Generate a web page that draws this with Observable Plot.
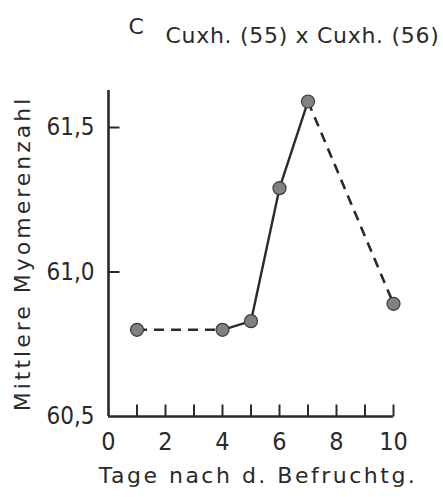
<!DOCTYPE html>
<html><head><meta charset="utf-8">
<script src="https://cdn.jsdelivr.net/npm/d3@7"></script>
<script src="https://cdn.jsdelivr.net/npm/@observablehq/plot@0.6"></script>
<style>body{margin:0;background:#fff}svg{display:block}</style>
</head><body><div id="chart"></div>
<script>
const days = [1, 4, 5, 6, 7, 10];
const myomeres = [60.80, 60.80, 60.83, 61.29, 61.59, 60.89];
const segmentStyles = ["dashed", "solid", "solid", "solid", "dashed"];
const xTickLabels = [0, 2, 4, 6, 8, 10];
const xTickMarks = [1, 2, 3, 4, 5, 6, 7, 8, 9, 10];
const yTicks = [60.5, 61.0, 61.5];
const titleLetter = "C";
const titleText = "Cuxh. (55) x Cuxh. (56)";
const xLabel = "Tage nach d. Befruchtg.";
const yLabel = "Mittlere Myomerenzahl";

const points = days.map((d, i) => ({day: d, value: myomeres[i]}));
const segments = segmentStyles.map((s, i) => ({
  x1: days[i], y1: myomeres[i], x2: days[i + 1], y2: myomeres[i + 1], style: s
}));
const fmt = d => d.toFixed(1).replace(".", ",");
const ink = "#2a2a2a";
const tickFont = "DejaVu Sans Condensed, DejaVu Sans, sans-serif";
const labelFont = "DejaVu Sans, sans-serif";
const upTick = {draw(context) { context.moveTo(0, 0); context.lineTo(0, -12); }};
const rightTick = {draw(context) { context.moveTo(0, 0); context.lineTo(11, 0); }};

const chart = Plot.plot({
  width: 443, height: 497,
  marginLeft: 108, marginRight: 50, marginTop: 90, marginBottom: 81,
  style: {fontFamily: tickFont, color: ink, background: "#fff"},
  x: {domain: [0, 10]},
  y: {domain: [60.5, 61.628]},
  marks: [
    Plot.axisX(xTickLabels, {tickSize: 0, tickPadding: 16, fontSize: 25, fill: ink, label: null}),
    Plot.axisY(yTicks, {tickSize: 0, tickPadding: 14, tickFormat: fmt, fontSize: 24, fill: ink, label: null}),
    Plot.dot(xTickMarks, {x: d => d, y: () => 60.5, symbol: upTick, fill: "none", stroke: ink, strokeWidth: 2}),
    Plot.dot(yTicks.filter(t => t > 60.5), {x: () => 0, y: d => d, symbol: rightTick, fill: "none", stroke: ink, strokeWidth: 2}),
    Plot.ruleX([0], {stroke: ink, strokeWidth: 2.6}),
    Plot.ruleY([60.5], {stroke: ink, strokeWidth: 2.6}),
    Plot.link(segments.filter(s => s.style === "solid"), {x1: "x1", y1: "y1", x2: "x2", y2: "y2", stroke: ink, strokeWidth: 2.4}),
    Plot.link(segments.filter(s => s.style === "dashed"), {x1: "x1", y1: "y1", x2: "x2", y2: "y2", stroke: ink, strokeWidth: 2.6, strokeDasharray: "10,7"}),
    Plot.dot(points, {x: "day", y: "value", r: 6.5, fill: "#818181", stroke: "#3a3a3a", strokeWidth: 1.2}),
    Plot.text([titleLetter], {frameAnchor: "top-left", dx: 20, dy: -72, fontSize: 22, fontFamily: labelFont, fill: ink, textAnchor: "start"}),
    Plot.text([titleText], {frameAnchor: "top-left", dx: 57, dy: -63, fontSize: 22, fontFamily: labelFont, fill: ink, textAnchor: "start"}),
    Plot.text([xLabel], {frameAnchor: "bottom", dx: 7, dy: 66, fontSize: 22, fontFamily: labelFont, fill: ink}),
    Plot.text([yLabel], {frameAnchor: "left", dx: -86, rotate: -90, textAnchor: "middle", fontSize: 22, fontFamily: labelFont, fill: ink})
  ]
});
const spacing = {[titleText]: 0.7, [xLabel]: 2.5, [yLabel]: 3};
d3.select(chart).selectAll("text").each(function() {
  const t = this.textContent;
  if (t in spacing) this.setAttribute("letter-spacing", spacing[t]);
});
document.getElementById("chart").append(chart);
</script></body></html>
